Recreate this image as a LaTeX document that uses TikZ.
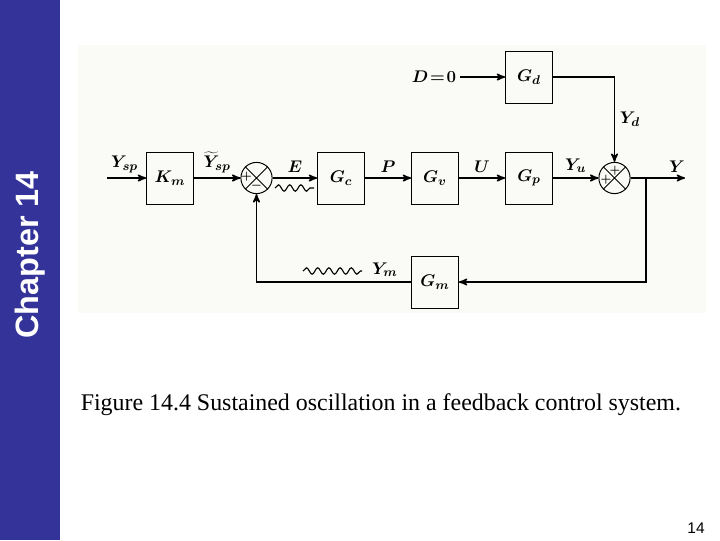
\documentclass[tikz,border=0pt]{standalone}
\usepackage{fontspec}
\usepackage{bm}
\usepackage{tikz}
\usetikzlibrary{arrows,positioning,calc,decorations.pathmorphing}
\usepackage{xcolor}
\newfontfamily\chapfont{Liberation Sans}
\newfontfamily\capfont{Liberation Serif}
\definecolor{barblue}{RGB}{51,51,153}
\definecolor{scanbg}{RGB}{250,250,247}

\begin{document}
\begin{tikzpicture}[x=0.025cm,y=-0.025cm,->,>=stealth',line width=1.1pt,
                    font=\fontsize{12.5}{15}\selectfont]
  \tikzstyle{block}=[draw,-,line width=0.6pt,minimum width=1.175cm,minimum height=1.3cm,inner sep=0pt]
  \tikzstyle{sum}=[draw,-,circle,line width=0.7pt,minimum size=0.78cm,inner sep=0pt]
  \tikzstyle{sign}=[inner sep=0pt,font=\footnotesize\bfseries]
  \tikzstyle{wave}=[-,line width=0.8pt,decorate,decoration={snake,amplitude=0.08cm,segment length=0.28cm}]

  % slide background
  \useasboundingbox (0,0) rectangle (720,540);
  \fill[barblue,-] (0,0) rectangle (60,540);
  \fill[scanbg,-] (78,45) rectangle (706,313);
  \node[rotate=90,text=white,font=\chapfont\bfseries\fontsize{23}{25}\selectfont] (chap) at (30,255) {Chapter 14};

  % blocks
  \node[block] (km) at (170,178) {$\bm{K_m}$};
  \node[sum]   (s1) at (256.5,178) {};
  \node[block] (gc) at (341,178) {$\bm{G_c}$};
  \node[block] (gv) at (435,178) {$\bm{G_v}$};
  \node[block] (gp) at (529,178) {$\bm{G_p}$};
  \node[sum]   (s2) at (614.5,178) {};
  \node[block] (gd) at (529,77) {$\bm{G_d}$};
  \node[block] (gm) at (435,282) {$\bm{G_m}$};
  \node[inner sep=2pt] (d) at (434,77) {$\bm{D\!=\!0}$};
  \coordinate (in) at (107,178);
  \coordinate (out) at (685,178);
  \coordinate (br) at (646,178);

  \draw[-,line width=0.7pt] (s1.north west) -- (s1.south east) (s1.north east) -- (s1.south west);
  \draw[-,line width=0.7pt] (s2.north west) -- (s2.south east) (s2.north east) -- (s2.south west);
  \node[sign] at ($(s1)+(-10,-1)$) {$\bm{+}$};
  \node[sign] at ($(s1)+(0,8)$) {$\bm{-}$};
  \node[sign] at ($(s2)+(0.5,-7.5)$) {$\bm{+}$};
  \node[sign] at ($(s2)+(-8.5,2)$) {$\bm{+}$};

  % signals
  \draw (in) -- node[above,pos=0.45] {$\bm{Y_{sp}}$} (km);
  \draw (km) -- node[above,pos=0.5] {$\bm{\widetilde{Y}_{sp}}$} (s1);
  \draw (s1) -- node[above] {$\bm{E}$} (gc);
  \draw (gc) -- node[above] {$\bm{P}$} (gv);
  \draw (gv) -- node[above] {$\bm{U}$} (gp);
  \draw (gp) -- node[above] {$\bm{Y_u}$} (s2);
  \draw (s2) -- node[pos=0.85,above] {$\bm{Y}$} (out);
  \draw (d) -- (gd);
  \draw (gd) -| node[pos=0.75,right] {$\bm{Y_d}$} (s2);
  \draw (br) |- (gm);
  \draw (gm) -| node[pos=0.085,above] {$\bm{Y_m}$} (s1);

  % oscillations
  \draw[wave] (275,188) -- (314,188);
  \draw[wave] (303,271) -- (362,271);

  \node[anchor=base west,inner sep=0pt,font=\capfont\fontsize{17}{20}\selectfont] (cap) at (80,410)
       {Figure 14.4 Sustained oscillation in a feedback control system.};
  \node[font=\chapfont\fontsize{11}{13}\selectfont] (pg) at (696,528) {14};
\end{tikzpicture}
\end{document}
